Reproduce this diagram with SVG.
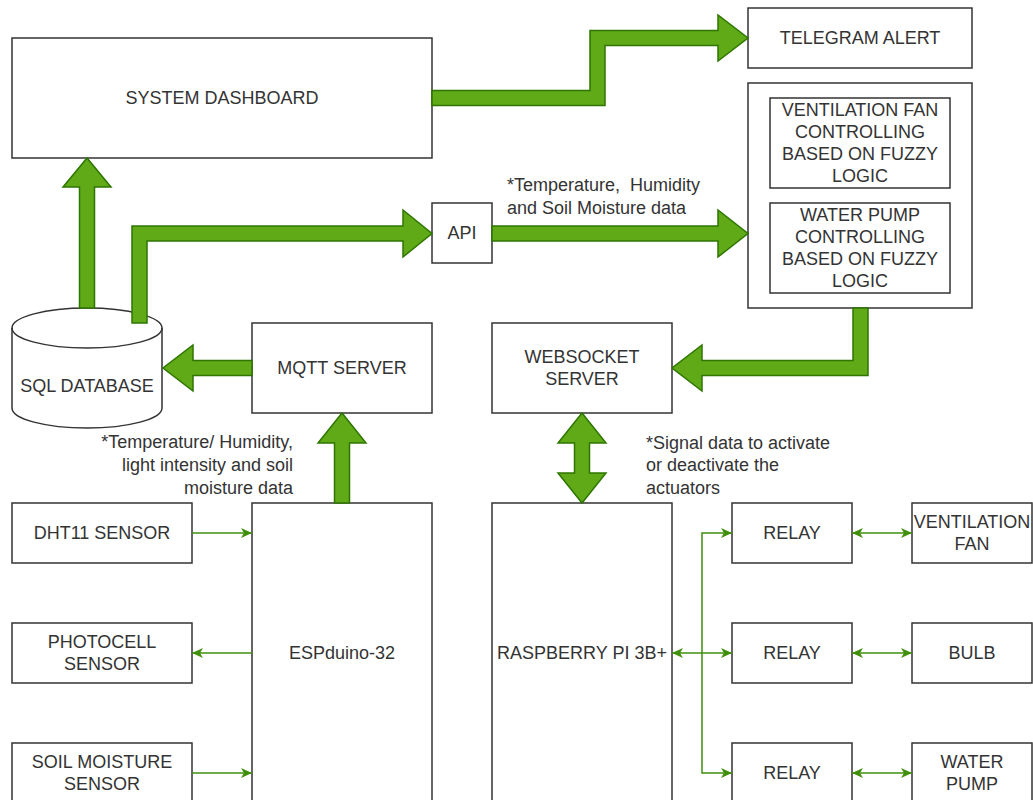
<svg xmlns="http://www.w3.org/2000/svg" width="1033" height="800" viewBox="0 0 1033 800">
<style>
.box{fill:#fff;stroke:#333;stroke-width:1.5}
.t{font-family:"Liberation Sans",Arial,Helvetica,sans-serif;font-size:18px;fill:#333;text-anchor:middle}
.tl{font-family:"Liberation Sans",Arial,Helvetica,sans-serif;font-size:18px;fill:#333}
.tr{font-family:"Liberation Sans",Arial,Helvetica,sans-serif;font-size:18px;fill:#333;text-anchor:end}
.fat{fill:#60a917;stroke:#2D7600;stroke-width:1.5;stroke-linejoin:miter}
.thin{fill:none;stroke:#3f8f0c;stroke-width:1.5}
</style>
<defs>
<marker id="ah" markerUnits="userSpaceOnUse" markerWidth="12" markerHeight="10" refX="11" refY="5" orient="auto-start-reverse" viewBox="0 0 12 10">
<path d="M0,0 L11,5 L0,10 L3,5 Z" fill="#3f8f0c"/>
</marker>
</defs>
<rect width="1033" height="800" fill="#fff"/>

<g id="dashboard"><rect class="box" x="12" y="38" width="420" height="120"/><text class="t" x="222" y="103.5">SYSTEM DASHBOARD</text></g>
<g id="telegram"><rect class="box" x="748" y="8" width="224" height="60"/><text class="t" x="860" y="43.5">TELEGRAM ALERT</text></g>
<g id="controller"><rect class="box" x="748" y="83" width="224" height="225"/></g>
<g id="fan-control"><rect class="box" x="770" y="98" width="180" height="90"/>
<text class="t" x="860" y="115.5">VENTILATION FAN</text><text class="t" x="860" y="137.5">CONTROLLING</text><text class="t" x="860" y="159.5">BASED ON FUZZY</text><text class="t" x="860" y="181.5">LOGIC</text></g>
<g id="pump-control"><rect class="box" x="770" y="203" width="180" height="90"/>
<text class="t" x="860" y="220.5">WATER PUMP</text><text class="t" x="860" y="242.5">CONTROLLING</text><text class="t" x="860" y="264.5">BASED ON FUZZY</text><text class="t" x="860" y="286.5">LOGIC</text></g>
<g id="api"><rect class="box" x="432" y="203" width="60" height="60"/><text class="t" x="462" y="238.5">API</text></g>
<g id="sql"><path class="box" d="M12,328 A75,20 0 0 1 162,328 V408 A75,20 0 0 1 12,408 Z"/><path d="M12,328 A75,20 0 0 0 162,328" fill="none" stroke="#333" stroke-width="1.5"/><text class="t" x="87" y="391.5">SQL DATABASE</text></g>
<g id="mqtt"><rect class="box" x="252" y="323" width="180" height="90"/><text class="t" x="342" y="373.5">MQTT SERVER</text></g>
<g id="websocket"><rect class="box" x="492" y="323" width="180" height="90"/><text class="t" x="582" y="362.5">WEBSOCKET</text><text class="t" x="582" y="384.5">SERVER</text></g>
<g id="dht11"><rect class="box" x="12" y="503" width="180" height="60"/><text class="t" x="102" y="538.5">DHT11 SENSOR</text></g>
<g id="photocell"><rect class="box" x="12" y="623" width="180" height="60"/><text class="t" x="102" y="647.5">PHOTOCELL</text><text class="t" x="102" y="669.5">SENSOR</text></g>
<g id="soil"><rect class="box" x="12" y="743" width="180" height="60"/><text class="t" x="102" y="767.5">SOIL MOISTURE</text><text class="t" x="102" y="789.5">SENSOR</text></g>
<g id="esp"><rect class="box" x="252" y="503" width="180" height="300"/><text class="t" x="342" y="658.5">ESPduino-32</text></g>
<g id="rpi"><rect class="box" x="492" y="503" width="180" height="300"/><text class="t" x="582" y="658.5">RASPBERRY PI 3B+</text></g>
<g id="relay1"><rect class="box" x="732" y="503" width="120" height="60"/><text class="t" x="792" y="538.5">RELAY</text></g>
<g id="relay2"><rect class="box" x="732" y="623" width="120" height="60"/><text class="t" x="792" y="658.5">RELAY</text></g>
<g id="relay3"><rect class="box" x="732" y="743" width="120" height="60"/><text class="t" x="792" y="778.5">RELAY</text></g>
<g id="fan"><rect class="box" x="912" y="503" width="120" height="60"/><text class="t" x="972" y="527.5">VENTILATION</text><text class="t" x="972" y="549.5">FAN</text></g>
<g id="bulb"><rect class="box" x="912" y="623" width="120" height="60"/><text class="t" x="972" y="658.5">BULB</text></g>
<g id="pump"><rect class="box" x="912" y="743" width="120" height="60"/><text class="t" x="972" y="767.5">WATER</text><text class="t" x="972" y="789.5">PUMP</text></g>

<g id="connectors">
<polygon class="fat" points="79.5,308 79.5,187 63,187 87,158 111,187 94.5,187 94.5,308"/>
<polygon class="fat" points="132,323 132,226 403,226 403,210 432,233.5 403,257 403,241 147,241 147,323"/>
<polygon class="fat" points="492,226 718,226 718,210 748,233.5 718,257 718,241 492,241"/>
<polygon class="fat" points="432,90.5 590,90.5 590,30.5 718,30.5 718,15 748,38 718,61 718,45.5 605,45.5 605,105.5 432,105.5"/>
<polygon class="fat" points="853,308 868,308 868,375.5 702,375.5 702,391 672,368 702,345 702,360.5 853,360.5"/>
<polygon class="fat" points="252,360.5 193,360.5 193,345 163,368 193,391 193,375.5 252,375.5"/>
<polygon class="fat" points="334.5,503 334.5,443 318,443 342,413 366,443 349.5,443 349.5,503"/>
<polygon class="fat" points="582,413 606,443 589.5,443 589.5,473 606,473 582,503 558,473 574.5,473 574.5,443 558,443"/>
<path class="thin" d="M192,533 H252" marker-end="url(#ah)"/>
<path class="thin" d="M252,653 H192" marker-end="url(#ah)"/>
<path class="thin" d="M192,773 H252" marker-end="url(#ah)"/>
<path class="thin" d="M672,653 H732" marker-start="url(#ah)" marker-end="url(#ah)"/>
<path class="thin" d="M702,653 V533 H732" marker-end="url(#ah)"/>
<path class="thin" d="M702,653 V773 H732" marker-end="url(#ah)"/>
<path class="thin" d="M852,533 H912" marker-start="url(#ah)" marker-end="url(#ah)"/>
<path class="thin" d="M852,653 H912" marker-start="url(#ah)" marker-end="url(#ah)"/>
<path class="thin" d="M852,773 H912" marker-start="url(#ah)" marker-end="url(#ah)"/>
</g>

<g id="labels">
<text class="tl" x="507" y="190.5">*Temperature,&#160; Humidity</text>
<text class="tl" x="507" y="213.5">and Soil Moisture data</text>
<text class="tr" x="293" y="447.5">*Temperature/ Humidity,</text>
<text class="tr" x="293" y="470.5">light intensity and soil</text>
<text class="tr" x="293" y="493.5">moisture data</text>
<text class="tl" x="646" y="448.5">*Signal data to activate</text>
<text class="tl" x="646" y="470.5">or deactivate the</text>
<text class="tl" x="646" y="493.5">actuators</text>
</g>
</svg>
